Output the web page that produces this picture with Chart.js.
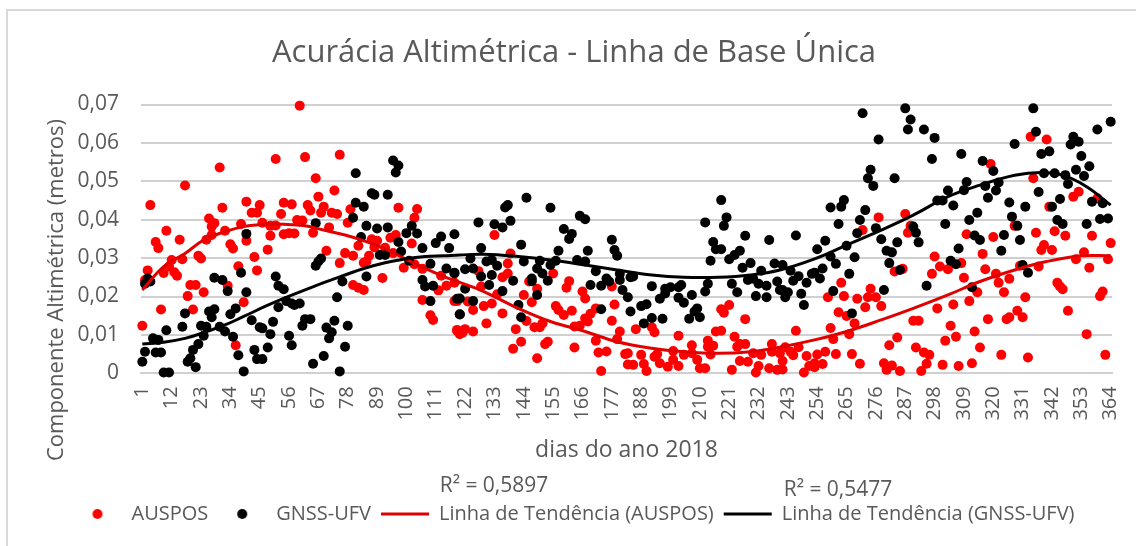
<!DOCTYPE html>
<html lang="pt">
<head>
<meta charset="utf-8">
<title>Acurácia Altimétrica</title>
<script src="https://cdn.jsdelivr.net/npm/chart.js@4"></script>
<style>
html,body{margin:0;padding:0;background:#fff;width:1136px;height:546px;overflow:hidden}
#frame{position:absolute;left:6px;top:9px;right:0;bottom:0;border-left:2.5px solid #d9d9d9;border-top:2.5px solid #d9d9d9;pointer-events:none}
canvas{position:absolute;left:0;top:0}
</style>
</head>
<body>
<div id="frame"></div>
<canvas id="c" width="1136" height="546"></canvas>
<script>
const chartTitle = 'Acurácia Altimétrica - Linha de Base Única';
const xAxisTitle = 'dias do ano 2018';
const yAxisTitle = 'Componente Altimétrica (metros)';
const seriesNames = ['AUSPOS','GNSS-UFV','Linha de Tendência (AUSPOS)','Linha de Tendência (GNSS-UFV)'];
const rSquaredLabels = ['R² = 0,5897','R² = 0,5477'];
const xTickDays = [1,12,23,34,45,56,67,78,89,100,111,122,133,144,155,166,177,188,199,210,221,232,243,254,265,276,287,298,309,320,331,342,353,364];
const yTickValues = [0,0.01,0.02,0.03,0.04,0.05,0.06,0.07];

const ausposDays = [
60,51,62,75,30,17,66,73,4,67,40,31,54,57,45,63,69,64,68,72,74,79,97,104,103,42,44,53,26,28,27,38,46,59,61,78,32,49,51,71,10,27,49,54,56,58,65,15,25,40,6,7,34,35,48,87,89,88,82,94,96,102,92,70,77,80,86,85,84,95,22,23,16,12,43,75,11,37,99,103,106,3,9,13,14,44,113,2,91,115,118,19,21,33,80,82,84,112,24,18,106,119,39,20,8,109,110,1,119,120,36,
133,139,138,155,127,138,136,146,149,161,160,177,166,167,128,134,144,178,147,156,132,129,123,118,125,162,157,159,171,169,167,168,218,221,219,227,136,130,145,177,151,148,150,163,165,141,186,192,193,180,216,218,121,119,122,125,202,223,213,179,171,153,152,143,140,163,207,215,213,225,227,237,224,149,172,175,182,183,188,194,200,204,207,214,230,233,237,240,183,185,189,190,195,198,202,209,210,212,222,225,228,231,232,236,239,173,200,193,
334,340,319,335,350,352,359,341,277,287,271,289,288,328,310,320,336,343,347,357,364,339,338,342,316,298,354,351,363,308,300,303,317,356,337,330,286,283,297,321,309,326,263,322,344,345,346,274,258,264,269,273,276,314,324,311,305,332,361,360,272,278,299,262,265,348,329,326,325,331,318,290,292,268,246,259,304,313,266,355,260,284,306,302,281,291,315,294,296,242,247,245,250,254,257,261,267,323,333,362,270,279,282,285,280,301,307,312,295,293,253,256,251,253,249,241,241,244];
const ausposValues = [
0.0697,0.0558,0.0563,0.0569,0.0536,0.0489,0.0508,0.0476,0.0438,0.0460,0.0447,0.0431,0.0444,0.0440,0.0438,0.0438,0.0434,0.0424,0.0418,0.0418,0.0415,0.0427,0.0431,0.0428,0.0405,0.0418,0.0418,0.0415,0.0403,0.0391,0.0382,0.0389,0.0392,0.0399,0.0398,0.0392,0.0371,0.0384,0.0385,0.0380,0.0371,0.0360,0.0358,0.0362,0.0365,0.0364,0.0366,0.0348,0.0348,0.0345,0.0342,0.0326,0.0336,0.0325,0.0322,0.0349,0.0345,0.0328,0.0332,0.0353,0.0360,0.0338,0.0327,0.0319,0.0313,0.0306,0.0306,0.0291,0.0288,0.0313,0.0306,0.0299,0.0297,0.0295,0.0303,0.0287,0.0278,0.0279,0.0275,0.0284,0.0272,0.0268,0.0261,0.0263,0.0254,0.0268,0.0254,0.0243,0.0248,0.0228,0.0236,0.0230,0.0230,0.0228,0.0230,0.0223,0.0217,0.0216,0.0211,0.0201,0.0191,0.0188,0.0185,0.0166,0.0166,0.0151,0.0139,0.0124,0.0113,0.0102,0.0073,
0.0360,0.0312,0.0286,0.0260,0.0266,0.0260,0.0250,0.0239,0.0220,0.0240,0.0223,0.0226,0.0213,0.0195,0.0226,0.0206,0.0204,0.0179,0.0185,0.0175,0.0182,0.0175,0.0187,0.0188,0.0165,0.0163,0.0165,0.0152,0.0169,0.0155,0.0143,0.0135,0.0167,0.0178,0.0158,0.0141,0.0156,0.0130,0.0136,0.0137,0.0130,0.0120,0.0120,0.0122,0.0124,0.0115,0.0115,0.0120,0.0107,0.0109,0.0109,0.0111,0.0106,0.0111,0.0115,0.0109,0.0098,0.0095,0.0085,0.0089,0.0085,0.0082,0.0076,0.0082,0.0064,0.0067,0.0073,0.0072,0.0069,0.0076,0.0076,0.0076,0.0069,0.0039,0.0054,0.0057,0.0050,0.0052,0.0048,0.0050,0.0058,0.0048,0.0052,0.0049,0.0052,0.0048,0.0056,0.0052,0.0023,0.0022,0.0024,0.0006,0.0026,0.0017,0.0019,0.0035,0.0013,0.0013,0.0009,0.0032,0.0030,0.0002,0.0019,0.0013,0.0009,0.0006,0.0035,0.0043,
0.0616,0.0609,0.0545,0.0508,0.0460,0.0473,0.0456,0.0434,0.0406,0.0415,0.0373,0.0384,0.0366,0.0384,0.0362,0.0355,0.0366,0.0370,0.0358,0.0358,0.0339,0.0334,0.0321,0.0321,0.0311,0.0304,0.0315,0.0297,0.0297,0.0287,0.0278,0.0271,0.0271,0.0275,0.0278,0.0280,0.0272,0.0265,0.0259,0.0259,0.0249,0.0246,0.0236,0.0236,0.0236,0.0226,0.0219,0.0220,0.0198,0.0201,0.0194,0.0198,0.0198,0.0211,0.0211,0.0188,0.0179,0.0198,0.0213,0.0201,0.0172,0.0175,0.0169,0.0159,0.0149,0.0163,0.0163,0.0146,0.0141,0.0146,0.0141,0.0137,0.0137,0.0130,0.0111,0.0118,0.0124,0.0109,0.0102,0.0102,0.0089,0.0093,0.0095,0.0085,0.0073,0.0067,0.0067,0.0054,0.0048,0.0068,0.0068,0.0047,0.0045,0.0049,0.0056,0.0050,0.0050,0.0048,0.0041,0.0048,0.0025,0.0026,0.0020,0.0006,0.0009,0.0022,0.0019,0.0026,0.0025,0.0006,0.0026,0.0024,0.0019,0.0016,0.0002,0.0032,0.0010,0.0056];

const gnssDays = [
95,97,96,81,87,88,93,81,84,80,66,85,89,93,102,100,104,40,118,113,111,83,97,116,106,90,92,98,68,67,66,101,109,115,118,51,85,28,31,38,3,4,2,76,106,107,110,52,54,33,40,109,119,74,55,57,58,60,52,36,28,26,27,17,34,120,42,50,62,64,73,61,78,70,16,23,25,30,45,46,10,32,72,49,24,56,71,5,7,35,57,77,22,20,43,48,2,6,8,37,69,19,44,46,1,18,65,21,9,11,39,75,
145,138,137,154,165,167,220,218,139,127,133,136,212,219,159,162,161,227,177,236,215,143,128,216,218,157,168,178,179,225,223,221,124,130,132,134,144,150,154,156,164,167,214,229,238,226,122,125,149,171,118,128,132,151,180,184,185,233,140,147,147,153,175,176,180,228,230,239,131,169,173,192,213,222,232,235,122,136,181,197,199,202,203,212,240,224,120,125,149,183,195,207,202,197,231,235,142,188,190,204,209,173,184,120,208,143,192,196,206,210,189,
271,287,289,288,294,298,277,297,308,274,273,283,275,303,309,310,316,320,317,322,321,318,339,343,347,348,351,354,356,353,349,350,352,341,338,336,335,328,359,364,337,345,326,332,342,357,361,299,301,305,314,311,327,344,346,355,360,363,329,302,290,291,292,284,276,278,269,270,272,262,263,264,259,313,315,324,330,307,323,280,282,265,259,254,257,246,268,241,261,256,281,304,306,331,333,244,247,245,252,255,250,266,285,260,279,295,312,243,241,242,248,249,267,253];
const gnssValues = [
0.0554,0.0541,0.0523,0.0521,0.0469,0.0465,0.0465,0.0444,0.0434,0.0405,0.0391,0.0384,0.0377,0.0380,0.0384,0.0365,0.0364,0.0363,0.0362,0.0356,0.0339,0.0355,0.0342,0.0326,0.0326,0.0308,0.0308,0.0317,0.0299,0.0291,0.0280,0.0293,0.0285,0.0273,0.0262,0.0252,0.0252,0.0249,0.0243,0.0262,0.0247,0.0239,0.0233,0.0239,0.0243,0.0226,0.0228,0.0228,0.0219,0.0214,0.0211,0.0188,0.0194,0.0198,0.0188,0.0182,0.0178,0.0182,0.0172,0.0169,0.0167,0.0161,0.0146,0.0156,0.0154,0.0154,0.0138,0.0134,0.0141,0.0141,0.0137,0.0124,0.0124,0.0119,0.0121,0.0124,0.0121,0.0121,0.0120,0.0117,0.0112,0.0109,0.0107,0.0102,0.0098,0.0098,0.0091,0.0091,0.0087,0.0095,0.0073,0.0069,0.0076,0.0061,0.0061,0.0067,0.0056,0.0054,0.0054,0.0047,0.0045,0.0039,0.0037,0.0037,0.0030,0.0030,0.0025,0.0016,0.0002,0.0002,0.0005,0.0005,
0.0457,0.0438,0.0432,0.0431,0.0410,0.0401,0.0406,0.0451,0.0397,0.0393,0.0388,0.0380,0.0393,0.0384,0.0376,0.0363,0.0350,0.0358,0.0348,0.0347,0.0342,0.0335,0.0326,0.0323,0.0323,0.0319,0.0319,0.0321,0.0306,0.0319,0.0308,0.0297,0.0299,0.0291,0.0295,0.0280,0.0291,0.0293,0.0282,0.0293,0.0295,0.0291,0.0293,0.0287,0.0286,0.0275,0.0271,0.0273,0.0273,0.0266,0.0260,0.0252,0.0256,0.0260,0.0259,0.0250,0.0252,0.0267,0.0241,0.0247,0.0240,0.0241,0.0247,0.0239,0.0243,0.0243,0.0246,0.0239,0.0230,0.0230,0.0228,0.0227,0.0233,0.0233,0.0233,0.0228,0.0220,0.0214,0.0217,0.0220,0.0224,0.0224,0.0230,0.0213,0.0217,0.0211,0.0195,0.0188,0.0204,0.0198,0.0194,0.0204,0.0197,0.0208,0.0201,0.0198,0.0178,0.0175,0.0180,0.0184,0.0169,0.0167,0.0161,0.0153,0.0161,0.0146,0.0144,0.0142,0.0142,0.0146,0.0130,
0.0677,0.0690,0.0661,0.0635,0.0635,0.0613,0.0609,0.0558,0.0571,0.0530,0.0508,0.0508,0.0488,0.0476,0.0477,0.0498,0.0553,0.0527,0.0488,0.0497,0.0476,0.0457,0.0521,0.0521,0.0516,0.0493,0.0530,0.0514,0.0539,0.0566,0.0596,0.0616,0.0603,0.0578,0.0571,0.0629,0.0690,0.0597,0.0635,0.0655,0.0472,0.0454,0.0445,0.0434,0.0434,0.0447,0.0443,0.0450,0.0450,0.0437,0.0418,0.0399,0.0408,0.0399,0.0389,0.0389,0.0402,0.0403,0.0384,0.0389,0.0382,0.0366,0.0341,0.0341,0.0378,0.0349,0.0365,0.0399,0.0425,0.0389,0.0434,0.0451,0.0432,0.0359,0.0347,0.0360,0.0347,0.0325,0.0319,0.0319,0.0315,0.0332,0.0304,0.0323,0.0345,0.0359,0.0302,0.0282,0.0285,0.0273,0.0287,0.0293,0.0284,0.0282,0.0262,0.0267,0.0253,0.0241,0.0259,0.0247,0.0236,0.0259,0.0269,0.0214,0.0217,0.0228,0.0224,0.0211,0.0217,0.0198,0.0207,0.0178,0.0156,0.0262];

const ausposTrendDays = [1,9,17,24,32,39,47,54,62,69,77,84,92,99,107,114,120,129,142,154,167,179,192,204,217,229,240,253,265,278,290,303,315,328,340,353,364];
const ausposTrendValues = [0.0217,0.0278,0.0312,0.0347,0.0369,0.0382,0.0388,0.0388,0.0384,0.0373,0.0360,0.0345,0.0324,0.0300,0.0273,0.0252,0.0237,0.0213,0.0169,0.0135,0.0109,0.0082,0.0065,0.0056,0.0052,0.0056,0.0068,0.0087,0.0109,0.0139,0.0169,0.0204,0.0239,0.0269,0.0291,0.0306,0.0306];
const gnssTrendDays = [1,9,17,24,32,39,47,54,62,69,77,84,92,99,107,114,120,129,142,154,167,179,192,204,217,229,240,253,265,278,290,303,315,328,338,346,355,364];
const gnssTrendValues = [0.0076,0.0081,0.0091,0.0106,0.0126,0.0148,0.0174,0.0195,0.0217,0.0236,0.0256,0.0273,0.0288,0.0297,0.0304,0.0306,0.0308,0.0310,0.0304,0.0295,0.0282,0.0269,0.0256,0.0250,0.0250,0.0256,0.0269,0.0298,0.0334,0.0373,0.0412,0.0460,0.0490,0.0516,0.0523,0.0516,0.0486,0.0438];

const toPoints = (days, values) => days.map((d, i) => ({x: d, y: values[i]}));
const textColor = '#595959';
const fontFamily = '"Open Sans", sans-serif';

function dotIcon(color){
  const cv = document.createElement('canvas');
  cv.width = 12; cv.height = 12;
  const g = cv.getContext('2d');
  g.fillStyle = color; g.beginPath(); g.arc(6,6,5,0,Math.PI*2); g.fill();
  return cv;
}
const legendIcons = [dotIcon('#ff0000'), dotIcon('#000000'), 'line', 'line'];

const freeText = {
  id: 'freeText',
  afterDraw(chart){
    const g = chart.ctx;
    g.save();
    g.fillStyle = textColor;
    g.textBaseline = 'middle';
    g.textAlign = 'center';
    g.font = '21px ' + fontFamily;
    g.fillText(rSquaredLabels[0], 494, 486);
    g.fillText(rSquaredLabels[1], 838, 490);
    g.translate(57, 290);
    g.rotate(-Math.PI/2);
    g.font = '22px ' + fontFamily;
    g.fillText(yAxisTitle, 0, 0);
    g.restore();
  }
};

new Chart(document.getElementById('c'), {
  type: 'scatter',
  plugins: [freeText],
  data: {
    datasets: [
      {label: seriesNames[0], data: toPoints(ausposDays, ausposValues), order: 4, backgroundColor: '#ff0000', borderColor: '#ff0000', pointRadius: 5, pointBorderWidth: 0, pointHoverRadius: 5, clip: false},
      {label: seriesNames[1], data: toPoints(gnssDays, gnssValues), order: 3, backgroundColor: '#000000', borderColor: '#000000', pointRadius: 5, pointBorderWidth: 0, pointHoverRadius: 5, clip: false},
      {label: seriesNames[2], data: toPoints(ausposTrendDays, ausposTrendValues), order: 2, showLine: true, borderColor: '#e00000', backgroundColor: '#e00000', borderWidth: 3, pointRadius: 0, tension: 0.4, clip: false},
      {label: seriesNames[3], data: toPoints(gnssTrendDays, gnssTrendValues), order: 1, showLine: true, borderColor: '#000000', backgroundColor: '#000000', borderWidth: 3, pointRadius: 0, tension: 0.4, clip: false}
    ]
  },
  options: {
    responsive: false,
    animation: false,
    events: [],
    layout: {padding: {left: 36, right: 24, top: 0, bottom: 12}},
    plugins: {
      tooltip: {enabled: false},
      title: {display: true, text: chartTitle, color: textColor, font: {family: fontFamily, size: 31, weight: 'normal', lineHeight: 1.2}, padding: {top: 34.4, bottom: 32.9}},
      legend: {
        position: 'bottom',
        labels: {
          color: textColor,
          font: {family: fontFamily, size: 20},
          usePointStyle: true,
          pointStyleWidth: 48,
          boxHeight: 12,
          padding: 10,
          sort: (a, b) => a.datasetIndex - b.datasetIndex,
          generateLabels(chart){
            const items = Chart.defaults.plugins.legend.labels.generateLabels(chart);
            items.forEach(it => { it.pointStyle = legendIcons[it.datasetIndex]; });
            return items;
          }
        }
      }
    },
    scales: {
      x: {
        type: 'linear',
        min: 0.5, max: 364.5,
        afterBuildTicks: s => { s.ticks = xTickDays.map(v => ({value: v})); },
        afterFit: s => { s.height = 546 - 12 - s.chart.legend.height - 373.3; s.paddingLeft = 0; s.paddingRight = 0; },
        grid: {display: false, drawTicks: false},
        border: {display: true, color: '#d0d0d0', width: 2},
        ticks: {autoSkip: false, minRotation: 90, maxRotation: 90, padding: 13, color: textColor, font: {family: fontFamily, size: 20}, callback: v => String(v)},
        title: {display: true, text: xAxisTitle, color: textColor, font: {family: fontFamily, size: 23}, padding: {top: 0, bottom: 30}}
      },
      y: {
        min: 0, max: 0.07,
        afterBuildTicks: s => { s.ticks = yTickValues.map(v => ({value: v})); },
        afterFit: s => { s.width = 105; s.paddingTop = 0; s.paddingBottom = 0; },
        grid: {color: '#d0d0d0', lineWidth: 2, drawTicks: false},
        border: {display: false},
        ticks: {padding: 22, color: textColor, font: {family: fontFamily, size: 21}, callback: v => v === 0 ? '0' : v.toFixed(2).replace('.', ',')}
      }
    }
  }
});
</script>
</body>
</html>
